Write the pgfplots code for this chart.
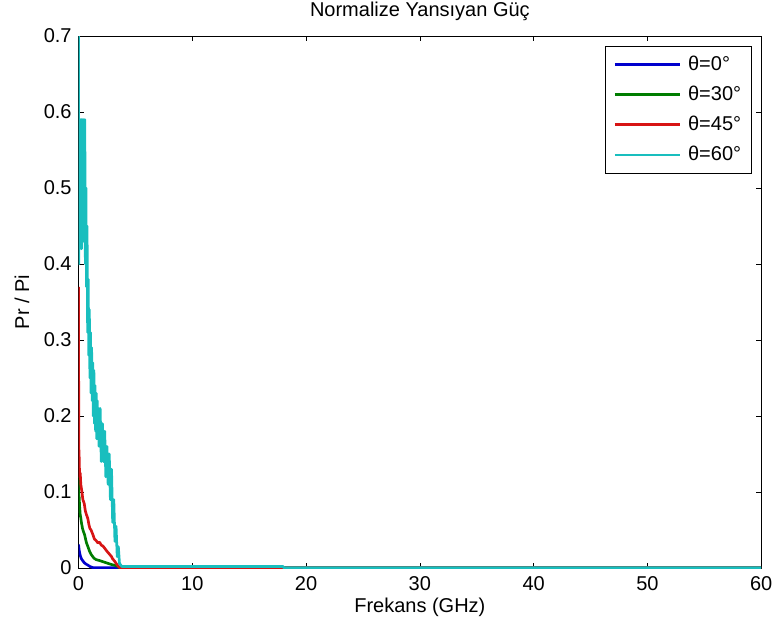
\documentclass[border=0pt]{standalone}
\usepackage{fontspec}
\setmainfont{Liberation Sans}
\usepackage{pgfplots}
\pgfplotsset{compat=1.18}
\definecolor{mblue}{RGB}{0,0,205}
\definecolor{mgreen}{RGB}{0,125,0}
\definecolor{mred}{RGB}{215,20,20}
\definecolor{mcyan}{RGB}{25,190,190}
\begin{document}
\fontsize{15pt}{18pt}\selectfont
\begin{tikzpicture}
\useasboundingbox (-58.9pt,-45pt) rectangle (521.6pt,426pt);
\begin{axis}[
  scale only axis, width=512pt, height=399pt,
  at={(0,0)}, anchor=south west,
  xmin=0, xmax=60, ymin=0, ymax=0.7,
  xtick={0,10,20,30,40,50,60},
  ytick={0,0.1,0.2,0.3,0.4,0.5,0.6,0.7},
  tick align=inside, major tick length=4pt,
  tick style={black, line width=0.5pt},
  axis line style={black, line width=0.6pt},
  /pgf/number format/assume math mode=true,
  yticklabel style={/pgf/number format/fixed, /pgf/number format/precision=1},
  tick label style={font=\fontsize{15pt}{18pt}\selectfont},
  xticklabel style={anchor=base, yshift=-16.5pt},
  title={Normalize Yansıyan Güç},
  title style={at={(axis description cs:0.5,1)}, anchor=base, yshift=8.5pt, font=\fontsize{15pt}{18pt}\selectfont},
  xlabel={Frekans (GHz)},
  xlabel style={at={(axis description cs:0.5,-0.0739)}, anchor=center, font=\fontsize{15pt}{18pt}\selectfont},
  ylabel={Pr / Pi},
  ylabel style={at={(axis description cs:-0.0828,0.5)}, anchor=center, font=\fontsize{15pt}{18pt}\selectfont},
  every axis plot/.append style={line width=2pt, line join=round},
  legend cell align=left,
  legend image code/.code={\draw[#1] (0pt,0pt) -- (49pt,0pt);},
  legend style={at={(axis description cs:1,1)}, anchor=north east, xshift=-6.75pt, yshift=-7.5pt,
    draw=black, line width=0.6pt, fill=white, font=\fontsize{15pt}{18pt}\selectfont,
    inner xsep=6pt, inner ysep=5pt, row sep=5.5pt,
    /tikz/every odd column/.append style={column sep=3pt}},
]
\addplot[mblue] coordinates {
(0,0.031) (0.05,0.024) (0.1,0.02) (0.16,0.016) (0.23,0.013) (0.3,0.011) (0.4,0.009)
(0.5,0.007) (0.67,0.005) (0.8,0.004) (1.0,0.002) (1.26,0.0005) (60,0.0005)};
\addlegendentry{θ=0°}
\addplot[mgreen] coordinates {
(0,0.12) (0.03,0.09) (0.05,0.095) (0.1,0.08) (0.15,0.07) (0.2,0.066) (0.25,0.06)
(0.35,0.052) (0.45,0.047) (0.53,0.044) (0.62,0.038) (0.7,0.033) (0.85,0.027)
(0.97,0.022) (1.1,0.018) (1.2,0.016) (1.35,0.013) (1.55,0.011) (1.8,0.01)
(2.0,0.009) (2.4,0.007) (2.8,0.005) (3.3,0.003) (3.6,0.0005) (60,0.0005)};
\addlegendentry{θ=30°}
\addplot[mred] coordinates {
(0,0.37) (0.02,0.16) (0.05,0.15) (0.08,0.13) (0.1,0.12) (0.15,0.125) (0.2,0.11)
(0.3,0.10) (0.38,0.09) (0.5,0.085) (0.6,0.075) (0.7,0.07) (0.82,0.065) (0.9,0.058)
(1.0,0.052) (1.1,0.05) (1.26,0.044) (1.4,0.038) (1.55,0.036) (1.7,0.033)
(1.85,0.034) (2.0,0.03) (2.14,0.029) (2.3,0.026) (2.5,0.022) (2.73,0.018)
(2.9,0.015) (3.0,0.012) (3.17,0.009) (3.4,0.004) (3.6,0.0005) (60,0.0005)};
\addlegendentry{θ=45°}
\addplot[mcyan] coordinates {
(0,0.70) (0.03,0.40) (0.06,0.59) (0.10,0.42) (0.14,0.59) (0.18,0.44) (0.22,0.59)
(0.26,0.42) (0.30,0.59) (0.34,0.44) (0.38,0.59) (0.42,0.43) (0.46,0.59) (0.50,0.45)
(0.55,0.59) (0.6,0.40) (0.65,0.50) (0.7,0.37) (0.75,0.45) (0.8,0.31) (0.85,0.38)
(0.9,0.28) (0.95,0.34) (1.0,0.25) (1.05,0.31) (1.1,0.23) (1.15,0.29) (1.2,0.22)
(1.25,0.27) (1.3,0.20) (1.35,0.26) (1.4,0.19) (1.45,0.24) (1.5,0.18) (1.55,0.23)
(1.6,0.17) (1.65,0.22) (1.7,0.17) (1.75,0.21) (1.8,0.16) (1.9,0.21) (2.0,0.14)
(2.1,0.19) (2.2,0.14) (2.3,0.18) (2.4,0.12) (2.5,0.16) (2.6,0.11) (2.7,0.15)
(2.8,0.09) (2.9,0.13) (3.0,0.06) (3.1,0.09) (3.2,0.035) (3.3,0.055) (3.4,0.015)
(3.5,0.028) (3.6,0.006) (3.7,0.004) (3.8,0.002) (18,0.002) (18.01,0.0005) (60,0.0005)};
\addlegendentry{θ=60°}
\end{axis}
\end{tikzpicture}
\end{document}
